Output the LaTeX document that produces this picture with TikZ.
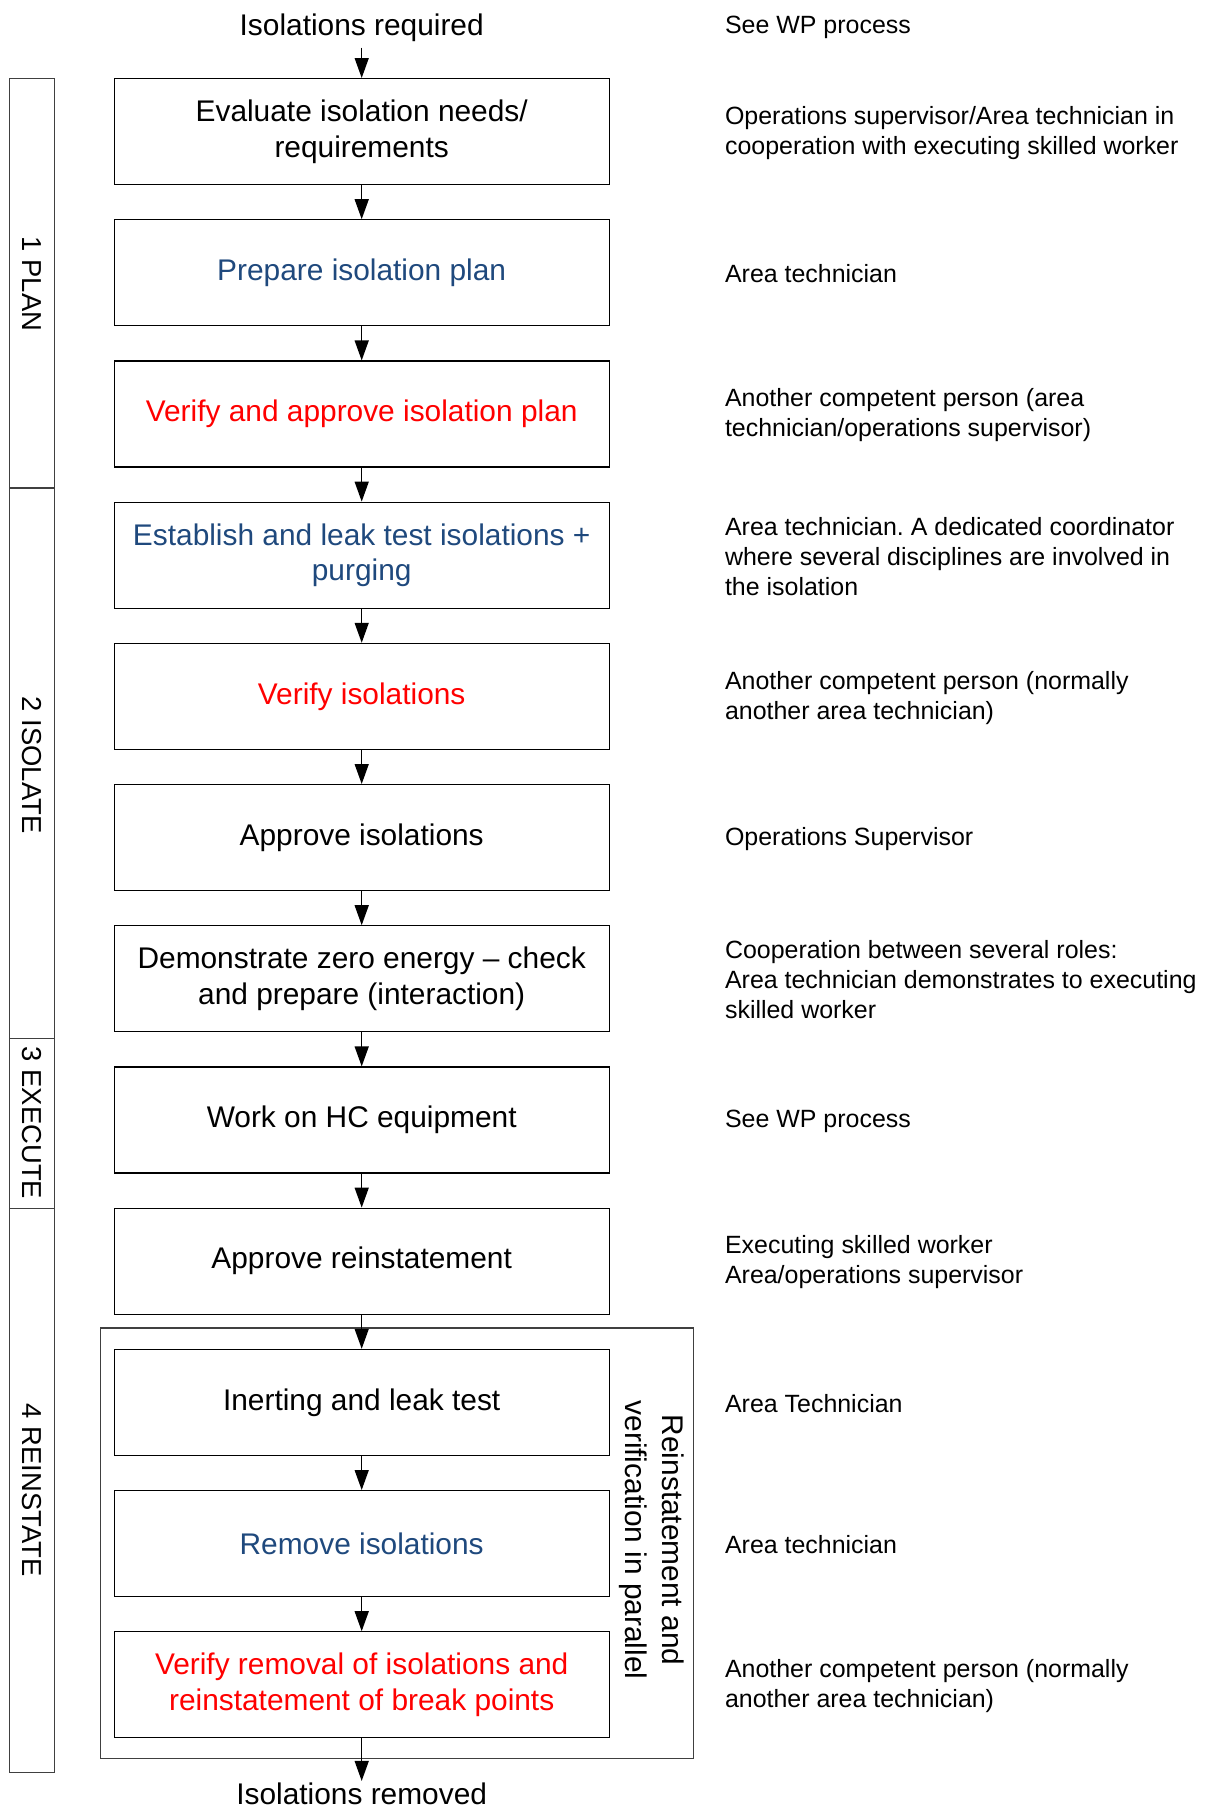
\documentclass[tikz,border=0pt]{standalone}
\usepackage{fontspec}
\setmainfont{Liberation Sans}
\frenchspacing
\usetikzlibrary{arrows.meta}
\definecolor{planblue}{RGB}{31,73,125}
\definecolor{checkred}{RGB}{255,0,0}

\begin{document}
\begin{tikzpicture}[x=0.02cm, y=-0.02cm,
  stepbox/.style={draw=black, line width=0.7pt, minimum width=9.9cm, minimum height=2.12cm, align=center, inner sep=0pt, font=\fontsize{17}{20.4}\selectfont},
  role/.style={anchor=west, align=left, inner sep=0pt, font=\fontsize{14.2}{17.1}\selectfont},
  phase/.style={rotate=-90, font=\fontsize{15.6}{18}\selectfont},
  frame/.style={draw=black!75, line width=0.7pt},
  flow/.style={-{Triangle[length=0.4cm,width=0.28cm]}, line width=0.8pt}]
\useasboundingbox (0,0) rectangle (1207,1810);

\draw[frame] (9.2,78.5) rectangle (54.2,488);
\draw[frame] (9.2,488) rectangle (54.2,1038.6);
\draw[frame] (9.2,1038.6) rectangle (54.2,1208.2);
\draw[frame] (9.2,1208.2) rectangle (54.2,1772.5);
\node[phase] (plan) at (31.7,284) {1 PLAN};
\node[phase] (isolate) at (31.7,765) {2 ISOLATE};
\node[phase] (execute) at (31.7,1123) {3 EXECUTE};
\node[phase] (reinstate) at (31.7,1490) {4 REINSTATE};

\draw[frame] (100.4,1328) rectangle (693.5,1758.5);
\node[rotate=-90, align=center, font=\fontsize{17}{21}\selectfont] (parallel) at (652,1540) {Reinstatement and\\verification in parallel};

\node[font=\fontsize{17}{20.4}\selectfont] (required) at (361.7,27.5) {Isolations required};
\node[stepbox] (evaluate) at (361.7,131.6) {Evaluate isolation needs/\\requirements};
\node[stepbox, text=planblue] (prepare) at (361.7,272.8) {Prepare isolation plan};
\node[stepbox, text=checkred] (approveplan) at (361.7,414) {Verify and approve isolation plan};
\node[stepbox, text=planblue] (establish) at (361.7,555.2) {Establish and leak test isolations +\\purging};
\node[stepbox, text=checkred] (verify) at (361.7,696.4) {Verify isolations};
\node[stepbox] (approve) at (361.7,837.6) {Approve isolations};
\node[stepbox] (demonstrate) at (361.7,978.8) {Demonstrate zero energy – check\\and prepare (interaction)};
\node[stepbox] (work) at (361.7,1120) {Work on HC equipment};
\node[stepbox] (approvereinst) at (361.7,1261.2) {Approve reinstatement};
\node[stepbox] (inerting) at (361.7,1402.4) {Inerting and leak test};
\node[stepbox, text=planblue] (remove) at (361.7,1543.6) {Remove isolations};
\node[stepbox, text=checkred] (verifyremoval) at (361.7,1684.8) {Verify removal of isolations and\\reinstatement of break points};
\node[font=\fontsize{17}{20.4}\selectfont, inner sep=1pt] (removed) at (361.7,1794) {Isolations removed};

\draw[flow] (required) -- (evaluate);
\draw[flow] (evaluate) -- (prepare);
\draw[flow] (prepare) -- (approveplan);
\draw[flow] (approveplan) -- (establish);
\draw[flow] (establish) -- (verify);
\draw[flow] (verify) -- (approve);
\draw[flow] (approve) -- (demonstrate);
\draw[flow] (demonstrate) -- (work);
\draw[flow] (work) -- (approvereinst);
\draw[flow] (approvereinst) -- (inerting);
\draw[flow] (inerting) -- (remove);
\draw[flow] (remove) -- (verifyremoval);
\draw[flow] (verifyremoval) -- (removed);

\node[role] (r0) at (724.7,27) {See WP process};
\node[role] (r1) at (724.7,132.8) {Operations supervisor/Area technician in\\cooperation with executing skilled worker};
\node[role] (r2) at (724.7,274) {Area technician};
\node[role] (r3) at (724.7,415.2) {Another competent person (area\\technician/operations supervisor)};
\node[role] (r4) at (724.7,556.4) {Area technician. A dedicated coordinator\\where several disciplines are involved in\\the isolation};
\node[role] (r5) at (724.7,697.6) {Another competent person (normally\\another area technician)};
\node[role] (r6) at (724.7,838.8) {Operations Supervisor};
\node[role] (r7) at (724.7,980) {Cooperation between several roles:\\Area technician demonstrates to executing\\skilled worker};
\node[role] (r8) at (724.7,1121.2) {See WP process};
\node[role] (r9) at (724.7,1262.4) {Executing skilled worker\\Area/operations supervisor};
\node[role] (r10) at (724.7,1403.6) {Area Technician};
\node[role] (r11) at (724.7,1544.8) {Area technician};
\node[role] (r12) at (724.7,1686) {Another competent person (normally\\another area technician)};
\end{tikzpicture}
\end{document}
